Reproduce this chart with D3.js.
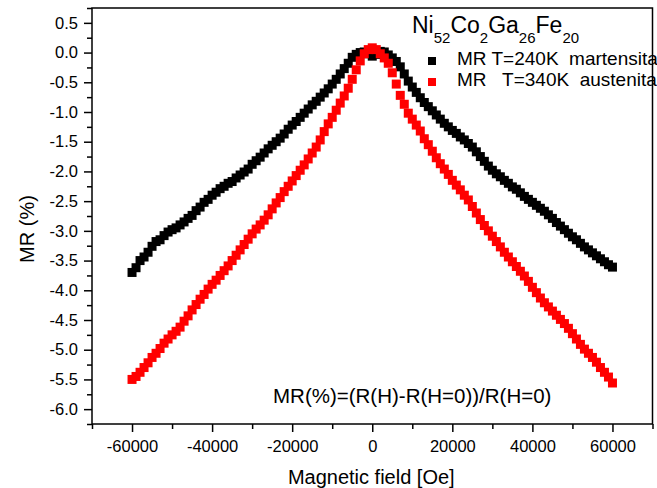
<!DOCTYPE html>
<html>
<head>
<meta charset="utf-8">
<script src="https://cdn.jsdelivr.net/npm/d3@7"></script>
<style>
  html, body { margin: 0; padding: 0; background: #fff; }
  svg { display: block; font-family: Arial, "Liberation Sans", sans-serif; }
</style>
</head>
<body>
<svg id="chart" width="657" height="488"></svg>
<script>
// Magnetic field sweep, kOe
const fieldKOe = [
  -60,-59,-58,-57,-56,-55,-54,-53,-52,-51,-50,-49,-48,-47,-46,-45,-44,-43,-42,-41,
  -40,-39,-38,-37,-36,-35,-34,-33,-32,-31,-30,-29,-28,-27,-26,-25,-24,-23,-22,-21,
  -20,-19,-18,-17,-16,-15,-14,-13,-12,-11,-10,-9,-8,-7,-6,-5,-4,-3,-2,-1,
  0,1,2,3,4,5,6,7,8,9,10,11,12,13,14,15,16,17,18,19,
  20,21,22,23,24,25,26,27,28,29,30,31,32,33,34,35,36,37,38,39,
  40,41,42,43,44,45,46,47,48,49,50,51,52,53,54,55,56,57,58,59,60
];

// MR (%) at T = 240 K (martensite)
const mr240K = [
  -3.70,-3.62,-3.50,-3.44,-3.36,-3.26,-3.18,-3.15,-3.08,-3.02,-2.98,-2.95,-2.90,-2.85,-2.79,-2.74,-2.66,-2.60,-2.52,-2.47,
  -2.40,-2.35,-2.29,-2.25,-2.20,-2.17,-2.11,-2.06,-2.01,-1.96,-1.88,-1.82,-1.76,-1.69,-1.62,-1.56,-1.50,-1.44,-1.37,-1.29,
  -1.22,-1.16,-1.09,-1.02,-0.95,-0.88,-0.82,-0.75,-0.68,-0.61,-0.53,-0.45,-0.36,-0.27,-0.18,-0.08,-0.03,0.00,0.01,-0.02,
  -0.06,-0.03,0.02,0.01,-0.04,-0.09,-0.15,-0.24,-0.36,-0.48,-0.58,-0.67,-0.76,-0.84,-0.91,-0.98,-1.05,-1.12,-1.19,-1.25,
  -1.31,-1.36,-1.42,-1.47,-1.53,-1.59,-1.67,-1.75,-1.83,-1.91,-1.98,-2.04,-2.09,-2.15,-2.20,-2.26,-2.30,-2.36,-2.42,-2.47,
  -2.52,-2.57,-2.62,-2.67,-2.73,-2.79,-2.86,-2.92,-2.98,-3.04,-3.10,-3.15,-3.21,-3.27,-3.32,-3.37,-3.42,-3.47,-3.52,-3.57,-3.61
];

// MR (%) at T = 340 K (austenite)
const mr340K = [
  -5.50,-5.45,-5.38,-5.30,-5.22,-5.13,-5.06,-4.98,-4.89,-4.82,-4.75,-4.69,-4.62,-4.52,-4.43,-4.33,-4.24,-4.15,-4.07,-3.98,
  -3.90,-3.83,-3.75,-3.67,-3.59,-3.50,-3.41,-3.32,-3.23,-3.14,-3.05,-2.97,-2.90,-2.82,-2.73,-2.63,-2.53,-2.44,-2.34,-2.25,
  -2.16,-2.07,-1.98,-1.89,-1.79,-1.69,-1.59,-1.47,-1.33,-1.20,-1.09,-0.97,-0.85,-0.73,-0.60,-0.45,-0.29,-0.14,-0.02,0.05,
  0.08,0.05,-0.02,-0.09,-0.18,-0.34,-0.53,-0.72,-0.87,-1.02,-1.12,-1.22,-1.32,-1.45,-1.55,-1.66,-1.77,-1.87,-1.96,-2.05,
  -2.15,-2.23,-2.31,-2.40,-2.48,-2.59,-2.70,-2.81,-2.91,-3.00,-3.09,-3.18,-3.27,-3.36,-3.44,-3.52,-3.60,-3.68,-3.76,-3.85,
  -3.95,-4.04,-4.13,-4.21,-4.28,-4.35,-4.42,-4.49,-4.56,-4.64,-4.73,-4.82,-4.91,-4.99,-5.06,-5.13,-5.21,-5.30,-5.38,-5.46,-5.56
];

const xMajorTicks = [-60000,-40000,-20000,0,20000,40000,60000];
const xMinorTicks = [-70000,-50000,-30000,-10000,10000,30000,50000,70000];
const yMajorTicks = [-6.0,-5.5,-5.0,-4.5,-4.0,-3.5,-3.0,-2.5,-2.0,-1.5,-1.0,-0.5,0.0,0.5];
const yMinorTicks = [-6.25,-5.75,-5.25,-4.75,-4.25,-3.75,-3.25,-2.75,-2.25,-1.75,-1.25,-0.75,-0.25,0.25,0.75];

const seriesList = [
  { label: "MR T=240K  martensita", values: mr240K, color: "#000000" },
  { label: "MR   T=340K  austenita", values: mr340K, color: "#ff0000" }
];

const svg = d3.select("#chart");
const plot = { left: 92, right: 652.5, top: 8, bottom: 424 };

const x = d3.scaleLinear().domain([-70000, 70000]).range([plot.left, plot.right]);
const y = d3.scaleLinear().domain([-6.25, 0.75]).range([plot.bottom, plot.top]);

// Data markers (squares)
const markerSize = 9;
seriesList.forEach(s => {
  const pts = fieldKOe.map((h, i) => ({ h: h * 1000, v: s.values[i] }));
  svg.append("g")
    .selectAll("rect")
    .data(pts)
    .join("rect")
    .attr("x", d => x(d.h) - markerSize / 2)
    .attr("y", d => y(d.v) - markerSize / 2)
    .attr("width", markerSize)
    .attr("height", markerSize)
    .attr("fill", s.color);
});

// Axes
const fmtX = d => String(d);
const fmtY = d => d.toFixed(1);

const xAxis = svg.append("g")
  .attr("transform", `translate(0,${plot.bottom})`)
  .call(d3.axisBottom(x).tickValues(xMajorTicks).tickFormat(fmtX).tickSize(8).tickSizeOuter(0).tickPadding(8));
svg.append("g")
  .attr("transform", `translate(0,${plot.bottom})`)
  .call(d3.axisBottom(x).tickValues(xMinorTicks).tickFormat("").tickSize(5).tickSizeOuter(0));

const yAxis = svg.append("g")
  .attr("transform", `translate(${plot.left},0)`)
  .call(d3.axisLeft(y).tickValues(yMajorTicks).tickFormat(fmtY).tickSize(8).tickSizeOuter(0).tickPadding(6));
svg.append("g")
  .attr("transform", `translate(${plot.left},0)`)
  .call(d3.axisLeft(y).tickValues(yMinorTicks).tickFormat("").tickSize(5).tickSizeOuter(0));

svg.selectAll(".domain").remove();
svg.selectAll(".tick line").attr("stroke", "#000").attr("stroke-width", 1.5);
xAxis.selectAll("text").attr("font-size", 16.5).attr("fill", "#000").attr("font-family", "Arial, 'Liberation Sans', sans-serif");
yAxis.selectAll("text").attr("font-size", 16.5).attr("fill", "#000").attr("font-family", "Arial, 'Liberation Sans', sans-serif");

// Frame
svg.append("rect")
  .attr("x", plot.left).attr("y", plot.top)
  .attr("width", plot.right - plot.left).attr("height", plot.bottom - plot.top)
  .attr("fill", "none").attr("stroke", "#000").attr("stroke-width", 1.5);

// Axis titles
svg.append("text")
  .attr("x", (plot.left + plot.right) / 2 - 1)
  .attr("y", 484)
  .attr("text-anchor", "middle")
  .attr("font-size", 20)
  .text("Magnetic field [Oe]");

svg.append("text")
  .attr("transform", "translate(34,229) rotate(-90)")
  .attr("text-anchor", "middle")
  .attr("font-size", 20)
  .text("MR (%)");

// Legend title with subscripts
const title = svg.append("text").attr("x", 412).attr("y", 33).attr("font-size", 23);
[["Ni", "52"], ["Co", "2"], ["Ga", "26"], ["Fe", "20"]].forEach(([el, n]) => {
  title.append("tspan").attr("y", 33).text(el);
  title.append("tspan").attr("y", 43).attr("font-size", 15).text(n);
});

// Legend entries
seriesList.forEach((s, i) => {
  const yy = 61 + i * 21;
  svg.append("rect")
    .attr("x", 432 - 4).attr("y", yy - 4)
    .attr("width", 8).attr("height", 8)
    .attr("fill", s.color);
  svg.append("text")
    .attr("x", 457).attr("y", 65 + i * 21)
    .attr("font-size", 19)
    .style("white-space", "pre")
    .text(s.label);
});

// Formula annotation
svg.append("text")
  .attr("x", 273).attr("y", 403)
  .attr("font-size", 20.5)
  .text("MR(%)=(R(H)-R(H=0))/R(H=0)");
</script>
</body>
</html>
